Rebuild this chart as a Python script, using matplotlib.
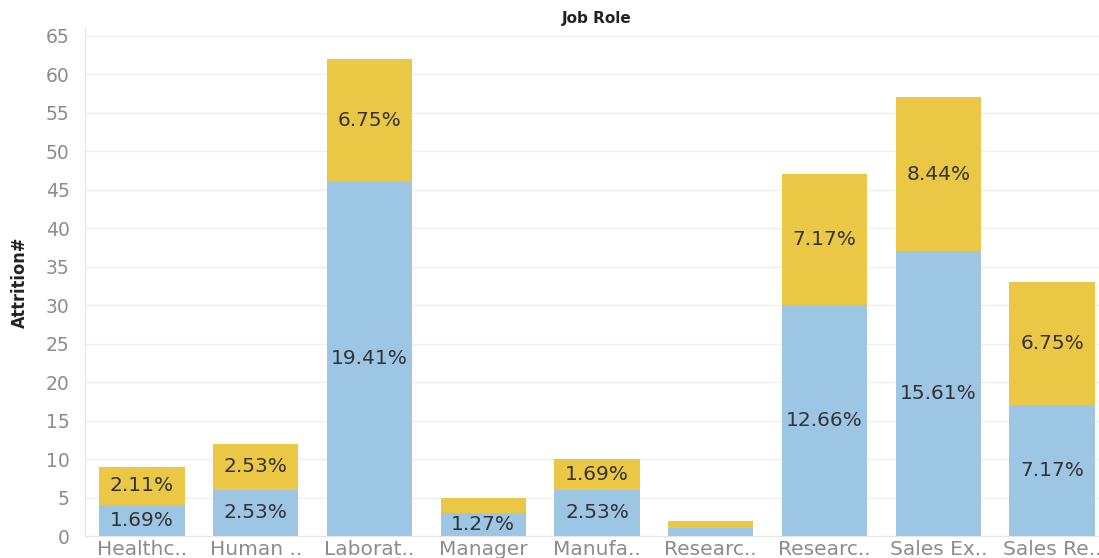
import matplotlib.pyplot as plt
import numpy as np

# Attrition counts by job role (total attrition = 237)
roles = ["Healthc..", "Human ..", "Laborat..", "Manager", "Manufa..",
         "Researc..", "Researc..", "Sales Ex..", "Sales Re.."]
lower_counts = [4, 6, 46, 3, 6, 1, 30, 37, 17]
upper_counts = [5, 6, 16, 2, 4, 1, 17, 20, 16]
total_attrition = 237

blue = "#9DC6E4"
yellow = "#EAC745"
grid_col = "#EFEFEF"
tick_col = "#8C8C8C"
text_col = "#333333"

fig = plt.figure(figsize=(10.99, 5.58), dpi=100)
ax = fig.add_axes([85 / 1099, 22 / 558, 1024 / 1099, (536 - 28) / 558])

x = np.arange(len(roles))
w = 0.75
ax.bar(x, lower_counts, width=w, color=blue, zorder=2)
ax.bar(x, upper_counts, width=w, bottom=lower_counts, color=yellow, zorder=2)

# Percent-of-total labels for segments tall enough to hold them
for i in range(len(roles)):
    lo, up = lower_counts[i], upper_counts[i]
    if lo >= 3:
        ax.text(x[i], lo / 2, f"{lo / total_attrition * 100:.2f}%",
                ha="center", va="center", fontsize=14.5, color=text_col, zorder=3)
    if up >= 3:
        ax.text(x[i], lo + up / 2, f"{up / total_attrition * 100:.2f}%",
                ha="center", va="center", fontsize=14.5, color=text_col, zorder=3)

ax.set_xlim(-0.5, len(roles) - 0.5)
ax.set_ylim(0, 66)
ax.set_yticks(np.arange(0, 66, 5))
ax.yaxis.grid(True, color=grid_col, linewidth=1, zorder=0)
ax.set_axisbelow(True)

ax.set_xticks(x)
ax.set_xticklabels(roles)
ax.tick_params(axis="x", length=0, labelsize=14.5, labelcolor=tick_col, pad=3)
ax.tick_params(axis="y", length=0, labelsize=13.5, labelcolor=tick_col, pad=11)

for side in ["top", "right"]:
    ax.spines[side].set_visible(False)
ax.spines["left"].set_color("#E6E6E6")
ax.spines["bottom"].set_color("#E6E6E6")

ax.set_ylabel("Attrition#", fontsize=13, fontweight="bold", color="#222222",
              family="DejaVu Sans", fontstretch="condensed", labelpad=12)
fig.text(597 / 1099, 1 - 19 / 558, "Job Role", ha="center", va="center",
         fontsize=11, fontweight="bold", color="#222222")

fig.savefig("out.png", dpi=100)
